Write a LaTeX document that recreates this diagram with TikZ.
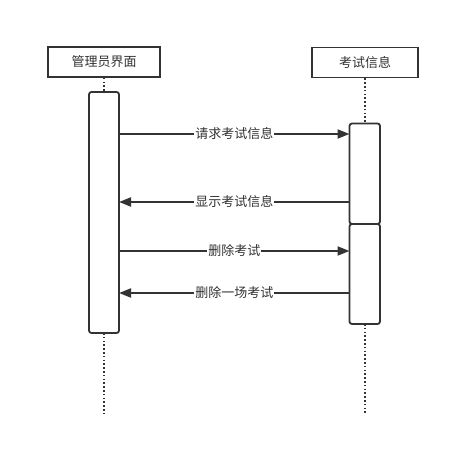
\documentclass[tikz,border=0pt]{standalone}
\usepackage{fontspec}
\newfontfamily\cjk{Noto Sans CJK SC}
\usetikzlibrary{arrows.meta}
\begin{document}
\begin{tikzpicture}[x=1pt,y=-1pt,
  ln/.style={draw=black!80, line width=1.8pt},
  hdr/.style={ln, fill=white, minimum width=#1, minimum height=30pt, inner sep=0pt, font=\cjk\fontsize{13}{15}\selectfont, text=black!80},
  act/.style={ln, fill=white, rounded corners=2.5pt},
  life/.style={draw=black!80, line width=1.8pt, dash pattern=on 1.6pt off 2.2pt},
  msg/.style={ln, -{Triangle[length=12pt,width=9pt]}},
  lbl/.style={fill=white, inner sep=1pt, font=\cjk\fontsize{13}{15}\selectfont, text=black!80}]
\useasboundingbox (0,0) rectangle (450,449);
% headers
\node[hdr=112pt] (A) at (104,62) {管理员界面};
\node[hdr=106pt] (B) at (365,62.5) {考试信息};
% lifelines
\coordinate (Aend) at (104,414);
\coordinate (Bend) at (365,414);
\draw[life] (A.south) -- (104,92);
\draw[life] (104,333) -- (Aend);
\draw[life] (B.south) -- (365,123);
\draw[life] (365,324) -- (Bend);
% activations
\draw[act] (89,92) rectangle (119,333);
\draw[act] (349.5,123.5) rectangle (380,224);
\draw[act] (349.5,224) rectangle (380,324);
\coordinate (aR1) at (119,134);
\coordinate (bL1) at (349.5,134);
\coordinate (bL2) at (349.5,202);
\coordinate (aR2) at (119,202);
\coordinate (aR3) at (119,251);
\coordinate (bL3) at (349.5,251);
\coordinate (bL4) at (349.5,293);
\coordinate (aR4) at (119,293);
\draw[msg] (aR1) -- node[lbl]{请求考试信息} (bL1);
\draw[msg] (bL2) -- node[lbl]{显示考试信息} (aR2);
\draw[msg] (aR3) -- node[lbl]{删除考试} (bL3);
\draw[msg] (bL4) -- node[lbl]{删除一场考试} (aR4);
\end{tikzpicture}
\end{document}
